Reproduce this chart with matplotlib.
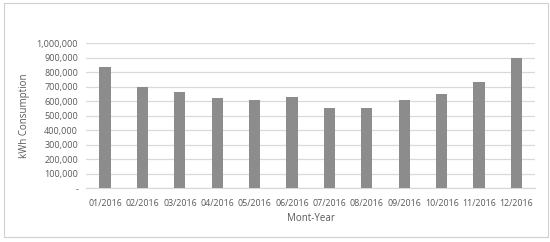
"""Monthly kWh consumption bar chart, 2016."""

import matplotlib

matplotlib.use("Agg")
import matplotlib.pyplot as plt
from matplotlib.patches import Rectangle
from matplotlib.ticker import FuncFormatter

months = ["01/2016", "02/2016", "03/2016", "04/2016", "05/2016", "06/2016",
          "07/2016", "08/2016", "09/2016", "10/2016", "11/2016", "12/2016"]
consumption = [838000, 698000, 664000, 620000, 607000, 628000,
               556000, 556000, 607000, 648000, 735000, 901000]
y_ticks = list(range(0, 1000001, 100000))

TEXT = "#595959"
GRID = "#d9d9d9"
BAR = "#8c8c8c"


def _fmt(value, _pos):
    if value == 0:
        return "-"
    return f"{value:,.0f}"


plt.rcParams["font.family"] = ["Open Sans", "DejaVu Sans"]

fig = plt.figure(figsize=(5.5, 2.42), dpi=100)
ax = fig.add_axes([0.157, 0.222, 0.816, 0.599])

ax.bar(range(len(months)), consumption, width=0.3, color=BAR, zorder=3)
ax.set_xlim(-0.5, len(months) - 0.5)
ax.set_ylim(0, 1000000)
ax.set_yticks(y_ticks)
ax.yaxis.set_major_formatter(FuncFormatter(_fmt))
ax.set_xticks(range(len(months)))
ax.set_xticklabels(months)

ax.grid(axis="y", color=GRID, linewidth=0.9, zorder=0)
for side in ["top", "right", "left"]:
    ax.spines[side].set_visible(False)
ax.spines["bottom"].set_color(GRID)
ax.spines["bottom"].set_linewidth(0.9)
ax.tick_params(length=0, colors=TEXT)
ax.tick_params(axis="x", labelsize=6.4, pad=8)
ax.tick_params(axis="y", labelsize=6.5, pad=6)
ax.set_xlabel("Mont-Year", fontsize=7, color=TEXT, labelpad=3)
ax.set_ylabel("kWh Consumption", fontsize=7, color=TEXT, labelpad=5)

fig.patches.append(Rectangle((0.008, 0.022), 0.988, 0.965, transform=fig.transFigure,
                             fill=False, edgecolor="#d0d0d0", linewidth=0.8))

fig.savefig("out.png", dpi=100)
plt.close(fig)
